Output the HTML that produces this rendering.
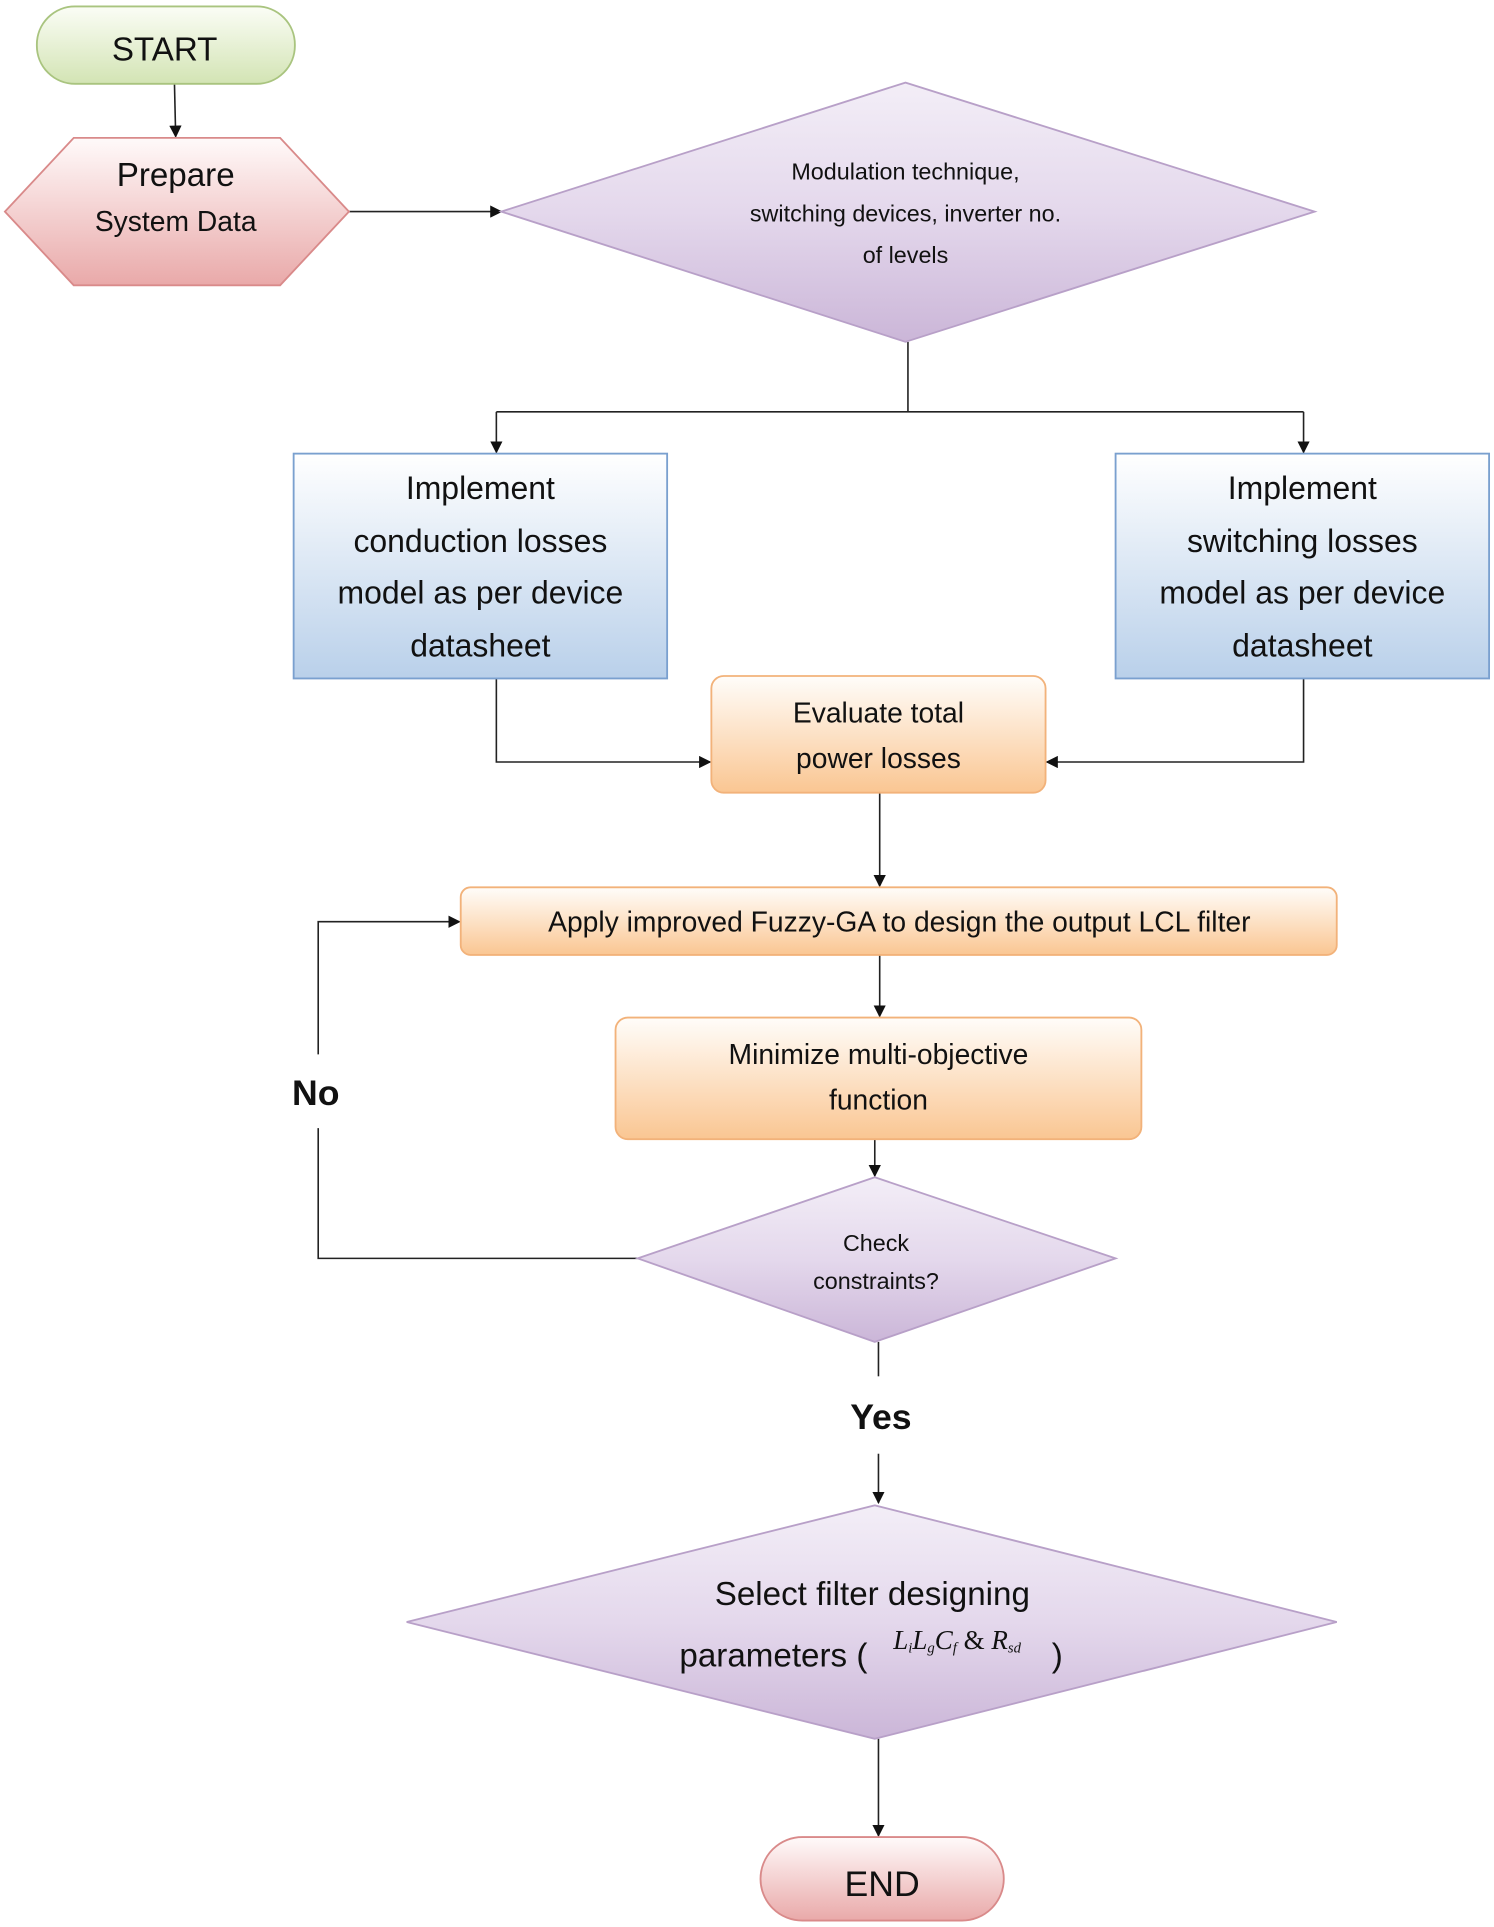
<!DOCTYPE html>
<html><head><meta charset="utf-8"><style>
html,body{margin:0;padding:0;background:#fff;}
svg{display:block;}
text{font-family:"Liberation Sans",sans-serif;fill:#111;}
</style></head><body>
<svg width="1494" height="1927" viewBox="0 0 1216 1568" xmlns="http://www.w3.org/2000/svg">
<defs>
<linearGradient id="g" x1="0" y1="0" x2="0" y2="1"><stop offset="0" stop-color="#fbfdf6"/><stop offset="1" stop-color="#d3e4b4"/></linearGradient>
<linearGradient id="p" x1="0" y1="0" x2="0" y2="1"><stop offset="0" stop-color="#fffafa"/><stop offset="1" stop-color="#e9a9a9"/></linearGradient>
<linearGradient id="v" x1="0" y1="0" x2="0" y2="1"><stop offset="0" stop-color="#f3eef7"/><stop offset="0.5" stop-color="#e4d8ec"/><stop offset="1" stop-color="#cbb6d8"/></linearGradient>
<linearGradient id="b" x1="0" y1="0" x2="0" y2="1"><stop offset="0" stop-color="#ffffff"/><stop offset="1" stop-color="#b9d0ea"/></linearGradient>
<linearGradient id="o" x1="0" y1="0" x2="0" y2="1"><stop offset="0" stop-color="#fffdfa"/><stop offset="1" stop-color="#fac692"/></linearGradient>
<marker id="a" markerWidth="10" markerHeight="10" refX="9" refY="5" orient="auto" markerUnits="userSpaceOnUse"><path d="M0,0 L10,5 L0,10 z" fill="#111"/></marker>
</defs>
<g stroke="#222" stroke-width="1.3" fill="none">
<path d="M142,68 L143,111" marker-end="url(#a)"/>
<path d="M284,172 L408,172" marker-end="url(#a)"/>
<path d="M739,278 L739,335 M404,335 L1061,335"/>
<path d="M404,335 L404,368" marker-end="url(#a)"/>
<path d="M1061,335 L1061,368" marker-end="url(#a)"/>
<path d="M404,552 L404,620 L578,620" marker-end="url(#a)"/>
<path d="M1061,552 L1061,620 L852,620" marker-end="url(#a)"/>
<path d="M716,645 L716,721" marker-end="url(#a)"/>
<path d="M716,777 L716,827" marker-end="url(#a)"/>
<path d="M712,927 L712,957" marker-end="url(#a)"/>
<path d="M519,1024 L259,1024 L259,918 M259,858 L259,750 L374,750" marker-end="url(#a)"/>
<path d="M715,1092 L715,1120"/>
<path d="M715,1183 L715,1223" marker-end="url(#a)"/>
<path d="M715,1415 L715,1494" marker-end="url(#a)"/>
</g>
<rect x="30" y="5" width="210" height="63" rx="31" fill="url(#g)" stroke="#a9c47f" stroke-width="1.5"/>
<text x="134" y="49" font-size="27" text-anchor="middle">START</text>
<polygon points="4,172 60,112 228,112 284,172 228,232 60,232" fill="url(#p)" stroke="#d98a8a" stroke-width="1.5"/>
<text x="143" y="151" font-size="27" text-anchor="middle">Prepare</text>
<text x="143" y="188" font-size="23" text-anchor="middle">System Data</text>
<polygon points="408,172 737,67 1070,172 737,278" fill="url(#v)" stroke="#b8a0c8" stroke-width="1.5"/>
<text x="737" y="146" font-size="19" text-anchor="middle">Modulation technique,</text>
<text x="737" y="180" font-size="19" text-anchor="middle">switching devices, inverter no.</text>
<text x="737" y="214" font-size="19" text-anchor="middle">of levels</text>
<rect x="239" y="369" width="304" height="183" fill="url(#b)" stroke="#7aa0cf" stroke-width="1.5"/>
<g font-size="26" text-anchor="middle">
<text x="391" y="406">Implement</text><text x="391" y="449">conduction losses</text><text x="391" y="491">model as per device</text><text x="391" y="534">datasheet</text>
</g>
<rect x="908" y="369" width="304" height="183" fill="url(#b)" stroke="#7aa0cf" stroke-width="1.5"/>
<g font-size="26" text-anchor="middle">
<text x="1060" y="406">Implement</text><text x="1060" y="449">switching losses</text><text x="1060" y="491">model as per device</text><text x="1060" y="534">datasheet</text>
</g>
<rect x="579" y="550" width="272" height="95" rx="10" fill="url(#o)" stroke="#f2b27a" stroke-width="1.5"/>
<text x="715" y="588" font-size="23" text-anchor="middle">Evaluate total</text>
<text x="715" y="625" font-size="23" text-anchor="middle">power losses</text>
<rect x="375" y="722" width="713" height="55" rx="8" fill="url(#o)" stroke="#f2b27a" stroke-width="1.5"/>
<text x="732" y="758" font-size="23" text-anchor="middle">Apply improved Fuzzy-GA to design the output LCL filter</text>
<rect x="501" y="828" width="428" height="99" rx="10" fill="url(#o)" stroke="#f2b27a" stroke-width="1.5"/>
<text x="715" y="866" font-size="23" text-anchor="middle">Minimize multi-objective</text>
<text x="715" y="903" font-size="23" text-anchor="middle">function</text>
<polygon points="519,1024 712,958 908,1024 712,1092" fill="url(#v)" stroke="#b8a0c8" stroke-width="1.5"/>
<text x="713" y="1018" font-size="19" text-anchor="middle">Check</text>
<text x="713" y="1049" font-size="19" text-anchor="middle">constraints?</text>
<text x="257" y="899" font-size="29" font-weight="bold" text-anchor="middle">No</text>
<text x="717" y="1163" font-size="29" font-weight="bold" text-anchor="middle">Yes</text>
<polygon points="331,1320 712,1225 1088,1320 712,1415" fill="url(#v)" stroke="#b8a0c8" stroke-width="1.5"/>
<text x="710" y="1306" font-size="27" text-anchor="middle">Select filter designing</text>
<text x="553" y="1356" font-size="27">parameters (</text>
<text x="727" y="1342" font-size="22" font-style="italic" style="font-family:'Liberation Serif',serif">L<tspan font-size="12" dy="3">i</tspan><tspan dy="-3">L</tspan><tspan font-size="12" dy="3">g</tspan><tspan dy="-3">C</tspan><tspan font-size="12" dy="3">f</tspan><tspan dy="-3" font-style="normal"> &amp; </tspan><tspan>R</tspan><tspan font-size="12" dy="3">sd</tspan></text>
<text x="856" y="1356" font-size="27">)</text>
<rect x="619" y="1495" width="198" height="68" rx="34" fill="url(#p)" stroke="#d98a8a" stroke-width="1.5"/>
<text x="718" y="1543" font-size="29" text-anchor="middle">END</text>
</svg>
</body></html>
